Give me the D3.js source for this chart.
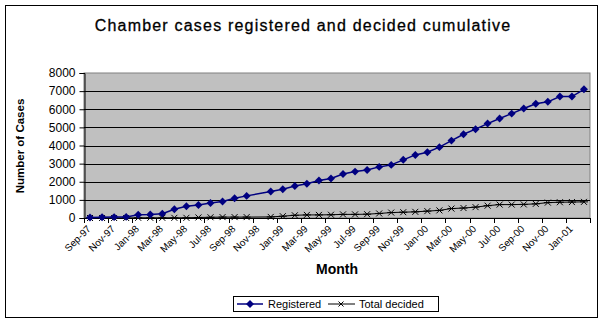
<!DOCTYPE html>
<html>
<head>
<meta charset="utf-8">
<script src="https://cdn.jsdelivr.net/npm/d3@7"></script>
<style>
  body { margin: 0; background: #fff; }
  text { font-family: Arial, "Liberation Sans", sans-serif; }
</style>
</head>
<body>
<svg id="chart" width="607" height="329"></svg>
<script>
// Months on the category axis (Sep-97 .. Feb-01)
const months = [
  "Sep-97", "Oct-97", "Nov-97", "Dec-97", "Jan-98", "Feb-98", "Mar-98", "Apr-98",
  "May-98", "Jun-98", "Jul-98", "Aug-98", "Sep-98", "Oct-98", "Nov-98", "Dec-98",
  "Jan-99", "Feb-99", "Mar-99", "Apr-99", "May-99", "Jun-99", "Jul-99", "Aug-99",
  "Sep-99", "Oct-99", "Nov-99", "Dec-99", "Jan-00", "Feb-00", "Mar-00", "Apr-00",
  "May-00", "Jun-00", "Jul-00", "Aug-00", "Sep-00", "Oct-00", "Nov-00", "Dec-00",
  "Jan-01", "Feb-01"
];
// Only every other month gets a label
const tickLabels = [
  "Sep-97", "Nov-97", "Jan-98", "Mar-98", "May-98", "Jul-98", "Sep-98", "Nov-98",
  "Jan-99", "Mar-99", "May-99", "Jul-99", "Sep-99", "Nov-99", "Jan-00", "Mar-00",
  "May-00", "Jul-00", "Sep-00", "Nov-00", "Jan-01"
];
const yTicks = [0, 1000, 2000, 3000, 4000, 5000, 6000, 7000, 8000];

// Cumulative counts (null = no value that month, line is joined across it)
const registered = [
  30, 40, 50, 60, 180, 190, 240, 480, 650, 720, 830, 910, 1090, 1220, null, 1460,
  1590, 1770, 1890, 2070, 2180, 2430, 2560, 2650, 2820, 2930, 3210, 3480, 3630, 3910,
  4270, 4620, 4900, 5210, 5490, 5760, 6040, 6300, 6410, 6700, 6700, 7100
];
const decided = [
  0, 0, 0, 0, 10, 10, 10, 10, 10, 30, 40, 50, 50, 50, null, 60,
  100, 150, 170, 170, 180, 200, 200, 210, 250, 300, 320, 340, 380, 420,
  520, 550, 600, 680, 740, 740, 750, 780, 850, 870, 880, 890
];

const svg = d3.select("#chart");

// Outer chart border
svg.append("rect")
  .attr("x", 5.5).attr("y", 5.5)
  .attr("width", 592).attr("height", 312)
  .attr("fill", "#fff").attr("stroke", "#000");

// Plot area
const plot = { left: 84, right: 590, top: 73, bottom: 218 };

const x = d3.scalePoint()
  .domain(months)
  .range([plot.left, plot.right])
  .padding(0.5);

const y = d3.scaleLinear()
  .domain([0, 8000])
  .range([plot.bottom, plot.top]);

svg.append("rect")
  .attr("x", plot.left).attr("y", plot.top)
  .attr("width", plot.right - plot.left).attr("height", plot.bottom - plot.top)
  .attr("fill", "#c0c0c0").attr("stroke", "#808080");

// Horizontal gridlines
svg.append("g")
  .selectAll("line")
  .data(yTicks.filter(t => t > 0 && t < 8000))
  .join("line")
  .attr("x1", plot.left).attr("x2", plot.right)
  .attr("y1", d => Math.round(y(d)) + 0.5).attr("y2", d => Math.round(y(d)) + 0.5)
  .attr("stroke", "#000");

// Y axis
const yAxis = svg.append("g")
  .attr("transform", `translate(${plot.left + 0.5},0)`)
  .call(d3.axisLeft(y).tickValues(yTicks).tickSize(5).tickPadding(4).tickFormat(d3.format("d")));
yAxis.select(".domain").attr("stroke", "#000");
yAxis.selectAll(".tick line").attr("stroke", "#000");
yAxis.selectAll("text").style("font-size", "12px").attr("fill", "#000");

// X axis: tick marks between every second month
const step = x.step();
const tickPos = d3.range(0, months.length + 1, 2).map(i => plot.left + i * step);
svg.append("line")
  .attr("x1", plot.left).attr("x2", plot.right)
  .attr("y1", plot.bottom + 0.5).attr("y2", plot.bottom + 0.5)
  .attr("stroke", "#000");
svg.append("g")
  .selectAll("line")
  .data(tickPos)
  .join("line")
  .attr("x1", d => Math.round(d) + 0.5).attr("x2", d => Math.round(d) + 0.5)
  .attr("y1", plot.bottom).attr("y2", plot.bottom + 5)
  .attr("stroke", "#000");

svg.append("g")
  .selectAll("text")
  .data(tickLabels)
  .join("text")
  .attr("transform", d => `translate(${x(d) - 1},${plot.bottom + 9}) rotate(-45)`)
  .attr("text-anchor", "end")
  .attr("dy", "0.35em")
  .style("font-size", "10px")
  .text(d => d);

// Lines
const line = d3.line()
  .x(d => x(d.m))
  .y(d => y(d.v));

const regData = months.map((m, i) => ({ m, v: registered[i] })).filter(d => d.v != null);
const decData = months.map((m, i) => ({ m, v: decided[i] })).filter(d => d.v != null);

svg.append("path")
  .datum(decData)
  .attr("fill", "none")
  .attr("stroke", "#000")
  .attr("stroke-width", 1)
  .attr("d", line);

svg.append("g")
  .selectAll("path")
  .data(decData)
  .join("path")
  .attr("transform", d => `translate(${x(d.m)},${y(d.v)})`)
  .attr("d", "M-3,-3L3,3M-3,3L3,-3M-4,0L4,0")
  .attr("stroke", "#000")
  .attr("fill", "none");

svg.append("path")
  .datum(regData)
  .attr("fill", "none")
  .attr("stroke", "#000080")
  .attr("stroke-width", 1.5)
  .attr("d", line);

const diamond = d3.symbol().type(d3.symbolDiamond2).size(40);
svg.append("g")
  .selectAll("path")
  .data(regData)
  .join("path")
  .attr("transform", d => `translate(${x(d.m)},${y(d.v)})`)
  .attr("d", diamond)
  .attr("fill", "#000080");

// Title and axis titles
svg.append("text")
  .attr("x", 303).attr("y", 31)
  .attr("text-anchor", "middle")
  .style("font-size", "16px")
  .style("letter-spacing", "1.2px")
  .style("stroke", "#000")
  .style("stroke-width", "0.3px")
  .text("Chamber cases registered and decided cumulative");

svg.append("text")
  .attr("transform", "translate(24,146) rotate(-90)")
  .attr("text-anchor", "middle")
  .style("font-size", "11.5px")
  .style("font-weight", "bold")
  .text("Number of Cases");

svg.append("text")
  .attr("x", 337).attr("y", 274)
  .attr("text-anchor", "middle")
  .style("font-size", "14px")
  .style("font-weight", "bold")
  .text("Month");

// Legend
const legend = svg.append("g");
legend.append("rect")
  .attr("x", 233.5).attr("y", 296.5)
  .attr("width", 205).attr("height", 15)
  .attr("fill", "#fff").attr("stroke", "#000");
legend.append("line")
  .attr("x1", 237).attr("x2", 263).attr("y1", 304).attr("y2", 304)
  .attr("stroke", "#000080").attr("stroke-width", 1.5);
legend.append("path")
  .attr("transform", "translate(250,304)")
  .attr("d", diamond)
  .attr("fill", "#000080");
legend.append("text")
  .attr("x", 268).attr("y", 308)
  .style("font-size", "11px")
  .text("Registered");
legend.append("line")
  .attr("x1", 328).attr("x2", 355).attr("y1", 304).attr("y2", 304)
  .attr("stroke", "#000");
legend.append("path")
  .attr("transform", "translate(341,304)")
  .attr("d", "M-2.5,-2.5L2.5,2.5M-2.5,2.5L2.5,-2.5")
  .attr("stroke", "#000");
legend.append("text")
  .attr("x", 359).attr("y", 308)
  .style("font-size", "11px")
  .text("Total decided");
</script>
</body>
</html>
